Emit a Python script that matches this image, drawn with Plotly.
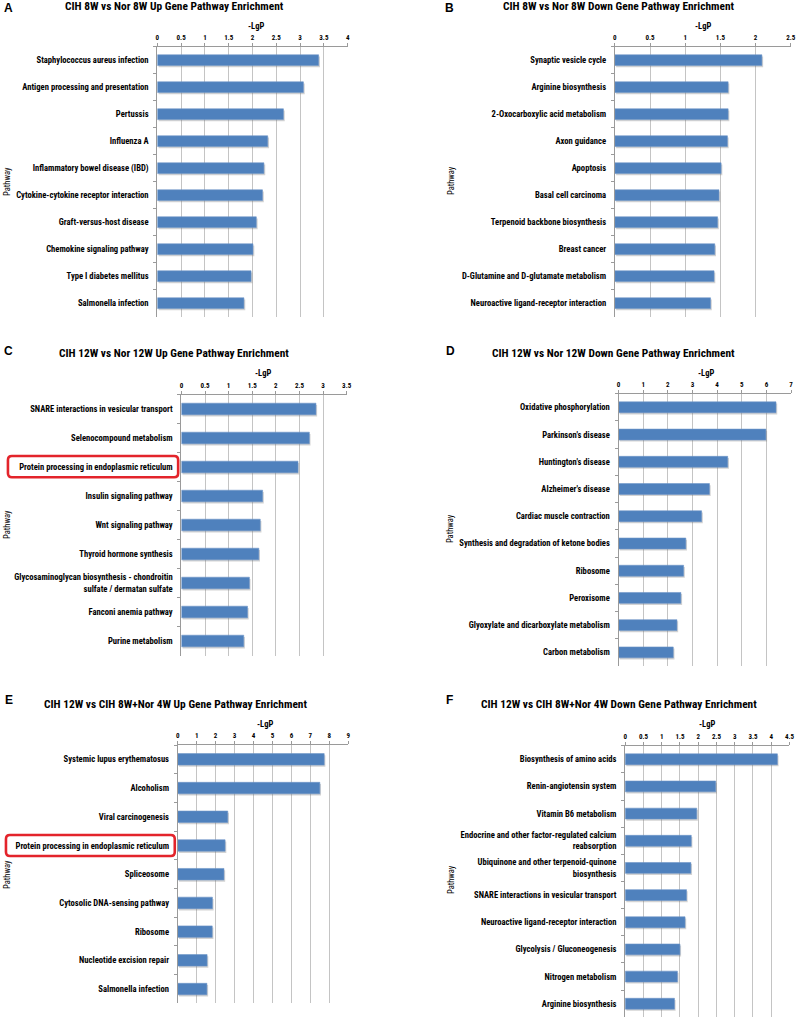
import plotly.graph_objects as go

W, H = 800, 1019

# ---------------- data ----------------
a_cats = ["Staphylococcus aureus infection", "Antigen processing and presentation", "Pertussis",
          "Influenza A", "Inflammatory bowel disease (IBD)", "Cytokine-cytokine receptor interaction",
          "Graft-versus-host disease", "Chemokine signaling pathway", "Type I diabetes mellitus",
          "Salmonella infection"]
a_vals = [3.39, 3.07, 2.65, 2.32, 2.24, 2.21, 2.08, 2.01, 1.97, 1.82]

b_cats = ["Synaptic vesicle cycle", "Arginine biosynthesis", "2-Oxocarboxylic acid metabolism",
          "Axon guidance", "Apoptosis", "Basal cell carcinoma", "Terpenoid backbone biosynthesis",
          "Breast cancer", "D-Glutamine and D-glutamate metabolism", "Neuroactive ligand-receptor interaction"]
b_vals = [2.09, 1.61, 1.61, 1.60, 1.51, 1.48, 1.46, 1.42, 1.41, 1.36]

c_cats = ["SNARE interactions in vesicular transport", "Selenocompound metabolism",
          "Protein processing in endoplasmic reticulum", "Insulin signaling pathway",
          "Wnt signaling pathway", "Thyroid hormone synthesis",
          "Glycosaminoglycan biosynthesis - chondroitin<br>sulfate / dermatan sulfate",
          "Fanconi anemia pathway", "Purine metabolism"]
c_vals = [2.85, 2.71, 2.47, 1.72, 1.67, 1.64, 1.44, 1.40, 1.32]

d_cats = ["Oxidative phosphorylation", "Parkinson's disease", "Huntington's disease",
          "Alzheimer's disease", "Cardiac muscle contraction", "Synthesis and degradation of ketone bodies",
          "Ribosome", "Peroxisome", "Glyoxylate and dicarboxylate metabolism", "Carbon metabolism"]
d_vals = [6.39, 5.98, 4.43, 3.69, 3.37, 2.73, 2.64, 2.53, 2.37, 2.22]

e_cats = ["Systemic lupus erythematosus", "Alcoholism", "Viral carcinogenesis",
          "Protein processing in endoplasmic reticulum", "Spliceosome", "Cytosolic DNA-sensing pathway",
          "Ribosome", "Nucleotide excision repair", "Salmonella infection"]
e_vals = [7.73, 7.50, 2.64, 2.50, 2.44, 1.83, 1.82, 1.55, 1.54]

f_cats = ["Biosynthesis of amino acids", "Renin-angiotensin system", "Vitamin B6 metabolism",
          "Endocrine and other factor-regulated calcium<br>reabsorption",
          "Ubiquinone and other terpenoid-quinone<br>biosynthesis",
          "SNARE interactions in vesicular transport", "Neuroactive ligand-receptor interaction",
          "Glycolysis / Gluconeogenesis", "Nitrogen metabolism", "Arginine biosynthesis"]
f_vals = [4.17, 2.48, 1.96, 1.81, 1.80, 1.68, 1.64, 1.50, 1.43, 1.35]

titles = ["CIH 8W vs Nor 8W Up Gene Pathway Enrichment",
          "CIH 8W vs Nor 8W Down Gene Pathway Enrichment",
          "CIH 12W vs Nor 12W Up Gene Pathway Enrichment",
          "CIH 12W vs Nor 12W Down Gene Pathway Enrichment",
          "CIH 12W vs CIH 8W+Nor 4W Up Gene Pathway Enrichment",
          "CIH 12W vs CIH 8W+Nor 4W Down Gene Pathway Enrichment"]
letters = ["A", "B", "C", "D", "E", "F"]
x_max = [4, 2.5, 3.5, 7, 9, 4.5]
x_dtick = [0.5, 0.5, 0.5, 1, 1, 0.5]
axis_title = "-LgP"
y_title = "Pathway"

# ---------------- layout (pixel geometry) ----------------
# plot boxes: x0, x1, y0(top), y1(bottom) in pixels
boxes = [(156.7, 348.7, 46.7, 316.7), (618.3, 795.7, 46.7, 316.7),
         (181.0, 347.7, 394.5, 655.5), (622.0, 796.0, 393.7, 666.0),
         (177.3, 349.3, 745.0, 1003.4), (628.7, 794.4, 745.7, 1017.3)]
letter_pos = [(7, 8), (451, 8), (7, 350.5), (452, 351), (7, 699.5), (451, 699.5)]
title_pos = [(174, 5.5), (622, 5.5), (174, 352.5), (617, 352.5), (175, 703.5), (622, 703.5)]
lgp_pos = [(256, 26), (707, 26), (263, 372.7), (710, 372.7), (265, 724), (711, 724)]
path_pos = [(5, 181), (453, 181), (5, 524), (452, 529), (5, 874), (453, 880)]
red_boxes = [(6, 177.7, 456, 477.3), (4, 174.3, 835, 856)]

cats_all = [a_cats, b_cats, c_cats, d_cats, e_cats, f_cats]
vals_all = [a_vals, b_vals, c_vals, d_vals, e_vals, f_vals]

FONT = "Liberation Sans Narrow, Roboto Condensed, Arial Narrow, Roboto, sans-serif"
BAR = "#4F81BD"
GRID = "#C4C4C4"
AXIS = "#9A9A9A"


def px(x):
    return x / W


def py(y):
    return 1 - y / H


fig = go.Figure()
annotations = []
shapes = []

for i in range(6):
    xa = "x" if i == 0 else f"x{i+1}"
    ya = "y" if i == 0 else f"y{i+1}"
    cats, vals = cats_all[i], vals_all[i]
    n = len(cats)
    # shadow
    fig.add_trace(go.Bar(y=cats, x=vals, orientation="h", xaxis=xa, yaxis=ya,
                         width=0.4, offset=-0.2 + 0.06, base=x_max[i] * 0.007,
                         marker=dict(color="rgba(110,110,110,0.30)", line=dict(width=0)),
                         showlegend=False, hoverinfo="skip"))
    fig.add_trace(go.Bar(y=cats, x=vals, orientation="h", xaxis=xa, yaxis=ya,
                         width=0.4, offset=-0.2,
                         marker=dict(color=BAR, line=dict(color="#6F95C8", width=0.6)),
                         showlegend=False))
    x0, x1, y0, y1 = boxes[i]
    xkey = "xaxis" if i == 0 else f"xaxis{i+1}"
    ykey = "yaxis" if i == 0 else f"yaxis{i+1}"
    ticks = []
    t = 0.0
    while t <= x_max[i] + 1e-9:
        ticks.append(round(t, 2))
        t += x_dtick[i]
    fig.update_layout(**{
        xkey: dict(domain=[px(x0), px(x1)], anchor=ya, side="top", range=[0, x_max[i]],
                   tickvals=ticks, ticktext=[("%g" % v) for v in ticks],
                   showgrid=True, gridcolor=GRID, gridwidth=1, zeroline=False,
                   showline=True, linecolor=AXIS, linewidth=1,
                   ticks="outside", ticklen=3, tickcolor=AXIS,
                   tickfont=dict(family=FONT, size=7, color="#000000", weight="bold"),
                   fixedrange=True),
        ykey: dict(domain=[py(y1), py(y0)], anchor=xa, type="category",
                   categoryorder="array", categoryarray=cats,
                   range=[n - 0.5, -0.5], showgrid=False, zeroline=False,
                   showline=True, linecolor=AXIS, linewidth=1,
                   ticks="outside", ticklen=3, tickcolor=AXIS, tickson="boundaries",
                   ticklabelstandoff=6,
                   tickfont=dict(family=FONT, size=8.6, color="#000000", weight="bold"),
                   fixedrange=True),
    })
    lx, ly = letter_pos[i]
    annotations.append(dict(text=letters[i], x=px(lx), y=py(ly), xref="paper", yref="paper",
                            showarrow=False, xanchor="center", yanchor="middle",
                            font=dict(family="Liberation Sans, Arial, sans-serif", size=12,
                                      color="#000", weight="bold")))
    tx, ty = title_pos[i]
    annotations.append(dict(text=titles[i], x=px(tx), y=py(ty), xref="paper", yref="paper",
                            showarrow=False, xanchor="center", yanchor="middle",
                            font=dict(family=FONT, size=11.4, color="#000", weight="bold")))
    gx, gy = lgp_pos[i]
    annotations.append(dict(text=axis_title, x=px(gx), y=py(gy), xref="paper", yref="paper",
                            showarrow=False, xanchor="center", yanchor="middle",
                            font=dict(family=FONT, size=8.5, color="#000", weight="bold")))
    qx, qy = path_pos[i]
    annotations.append(dict(text=y_title, x=px(qx), y=py(qy), xref="paper", yref="paper",
                            showarrow=False, xanchor="center", yanchor="middle", textangle=-90,
                            font=dict(family=FONT, size=8.5, color="#000")))

for (bx0, bx1, by0, by1) in red_boxes:
    r = 4
    rx, ry = r / W, r / H
    X0, X1 = px(bx0), px(bx1)
    Yt, Yb = py(by0), py(by1)
    path = (f"M {X0+rx},{Yt} L {X1-rx},{Yt} Q {X1},{Yt} {X1},{Yt-ry} "
            f"L {X1},{Yb+ry} Q {X1},{Yb} {X1-rx},{Yb} "
            f"L {X0+rx},{Yb} Q {X0},{Yb} {X0},{Yb+ry} "
            f"L {X0},{Yt-ry} Q {X0},{Yt} {X0+rx},{Yt} Z")
    shapes.append(dict(type="path", path=path, xref="paper", yref="paper",
                       line=dict(color="#E3242B", width=2.6)))

fig.update_layout(width=W, height=H, margin=dict(l=0, r=0, t=0, b=0),
                  paper_bgcolor="white", plot_bgcolor="white",
                  barmode="overlay", bargap=0.6,
                  annotations=annotations, shapes=shapes,
                  font=dict(family=FONT, color="#000"))

fig.write_html("out.html", config={"displayModeBar": False},
               post_script="document.body.style.margin='0px';")
